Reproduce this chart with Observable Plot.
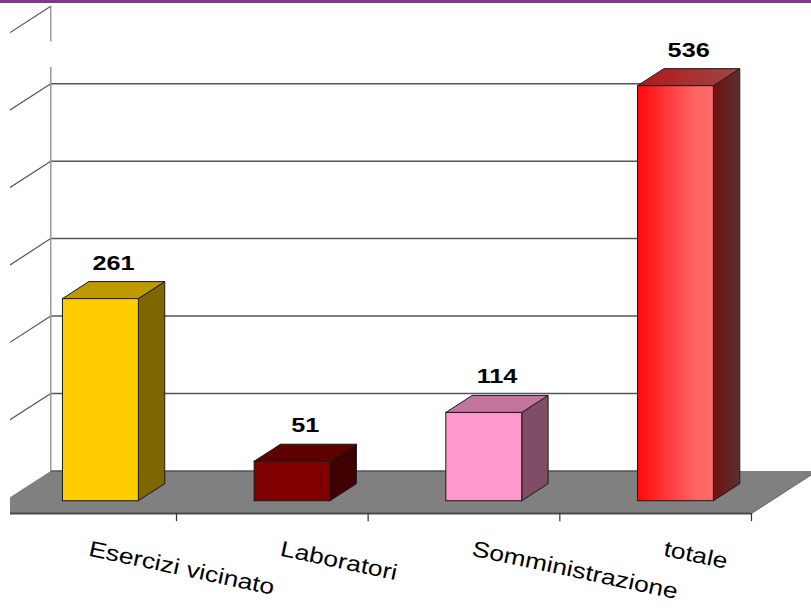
<!DOCTYPE html>
<html><head><meta charset="utf-8">
<script src="https://cdn.jsdelivr.net/npm/d3@7"></script>
<script src="https://cdn.jsdelivr.net/npm/@observablehq/plot@0.6"></script>
<style>
body{margin:0;background:#fff;}
#wrap{position:relative;width:811px;height:608px;overflow:hidden;background:#fff;}
#band{position:absolute;left:0;top:0;width:811px;height:3px;background:#7d3a89;}
</style></head><body><div id="wrap"></div>
<script>
const categories = ["Esercizi vicinato", "Laboratori", "Somministrazione", "totale"];
const values = [261, 51, 114, 536];
const valueTicks = [0, 100, 200, 300, 400, 500, 600];
const frontColors = ["#FFCC00", "#800000", "#FF99CC", "url(#redFront)"];
const topColors = ["#BF9900", "#5E0000", "#C2749B", "url(#redTop)"];
const sideColors = ["#806600", "#3E0000", "#804D66", "url(#redSide)"];

// 3D style constants (data units)
const depthX = 0.344, depthY = 55;
const barFront = 0.3, barBack = 0.7, halfWidth = 0.198;
const wallEnd = 3.82;
const axisGap = [521, 554];

const faces = [];
categories.forEach((c, i) => {
  const v = values[i];
  const xl = i + 0.5 - halfWidth + barFront * depthX;
  const xr = i + 0.5 + halfWidth + barFront * depthX;
  const y0 = barFront * depthY, y1 = v + barFront * depthY;
  const ddx = (barBack - barFront) * depthX, ddy = (barBack - barFront) * depthY;
  const push = (face, fill, pts) => pts.concat([pts[0]]).forEach(([x, y]) => faces.push({id: c + face, fill, x, y}));
  push("side", sideColors[i], [[xr, y0], [xr + ddx, y0 + ddy], [xr + ddx, y1 + ddy], [xr, y1]]);
  push("top", topColors[i], [[xl, y1], [xr, y1], [xr + ddx, y1 + ddy], [xl + ddx, y1 + ddy]]);
  push("front", frontColors[i], [[xl, y0], [xr, y0], [xr, y1], [xl, y1]]);
});
const n = categories.length;
const floor = [[0, 0], [n, 0], [n + depthX, depthY], [depthX, depthY], [0, 0]].map(([x, y]) => ({x, y}));

const svg = Plot.plot({
  width: 811, height: 608,
  marginTop: 0, marginRight: 0, marginBottom: 0, marginLeft: 10,
  x: {type: "linear", domain: [0, n], range: [-15.7, 751], axis: null},
  y: {type: "linear", domain: [0, 662.5], range: [513, 0], axis: null},
  color: {type: "identity"},
  style: {fontFamily: "'Liberation Sans', Arial, sans-serif", background: "white", color: "black"},
  marks: [
    Plot.line(floor, {x: "x", y: "y", fill: "#808080", stroke: "none", clip: true}),
    Plot.ruleY([0], {y: () => depthY, x1: depthX, x2: wallEnd, stroke: "#555", strokeWidth: 1.5, clip: true}),
    Plot.ruleY([0], {x1: 0, x2: n, stroke: "#4a4a4a", strokeWidth: 2, clip: true}),
    Plot.link([0], {x1: n, y1: 0, x2: n + depthX, y2: depthY, stroke: "#666", strokeWidth: 1, clip: true}),
    Plot.ruleY(valueTicks.filter(t => t > 0 && t < 600), {y: t => t + depthY, x1: depthX, x2: wallEnd, stroke: "#555", strokeWidth: 1.5, clip: true}),
    Plot.link(valueTicks.filter(t => t > 0), {x1: depthX, y1: t => t + depthY, x2: 0, y2: t => t, stroke: "#555", strokeWidth: 1.2, clip: true}),
    Plot.ruleX([depthX], {y1: depthY, y2: axisGap[0] + depthY, stroke: "#999", strokeWidth: 1.5}),
    Plot.ruleX([depthX], {y1: axisGap[1] + depthY, y2: 600 + depthY, stroke: "#999", strokeWidth: 1.5}),
    Plot.ruleX(d3.range(1, n + 1), {y1: 0, y2: -10.5, stroke: "#333", strokeWidth: 1.2}),
    Plot.line(faces, {x: "x", y: "y", z: "id", fill: "fill", stroke: "#1a1a1a", strokeWidth: 1, strokeLinejoin: "round"}),
    Plot.text(values, {x: (d, i) => i + 0.5 + 0.5 * depthX, y: d => d + barBack * depthY, text: d => String(d),
      dy: -12, lineAnchor: "bottom", fontSize: 21, fontWeight: "bold", fill: "black"}),
    Plot.text(categories, {x: (d, i) => i + 0.5, y: () => 0, text: d => d, dx: 7, dy: 42, rotate: 12,
      textAnchor: "start", lineAnchor: "bottom", fontSize: 22, fill: "black"})
  ]
});

const defs = d3.select(svg).insert("defs", ":first-child");
function grad(id, stops) {
  const g = defs.append("linearGradient").attr("id", id).attr("x1", "0").attr("x2", "1").attr("y1", "0").attr("y2", "0");
  stops.forEach(([o, c]) => g.append("stop").attr("offset", o).attr("stop-color", c));
}
grad("redFront", [[0, "#FF0A0A"], [0.75, "#FF6464"], [1, "#FF6A6A"]]);
grad("redTop", [[0, "#B31818"], [1, "#9E4646"]]);
grad("redSide", [[0, "#731010"], [1, "#573030"]]);

const textGroups = svg.querySelectorAll('g[aria-label="text"]');
const stretch = [1.2, 1.2];
textGroups.forEach((g, k) => {
  g.querySelectorAll("text").forEach(t => {
    const tr = t.getAttribute("transform") || "";
    t.setAttribute("transform", tr + ` scale(${stretch[k] || 1},1)`);
  });
});

const wrap = document.getElementById("wrap");
wrap.appendChild(svg);
const band = document.createElement("div");
band.id = "band";
wrap.appendChild(band);
</script></body></html>
